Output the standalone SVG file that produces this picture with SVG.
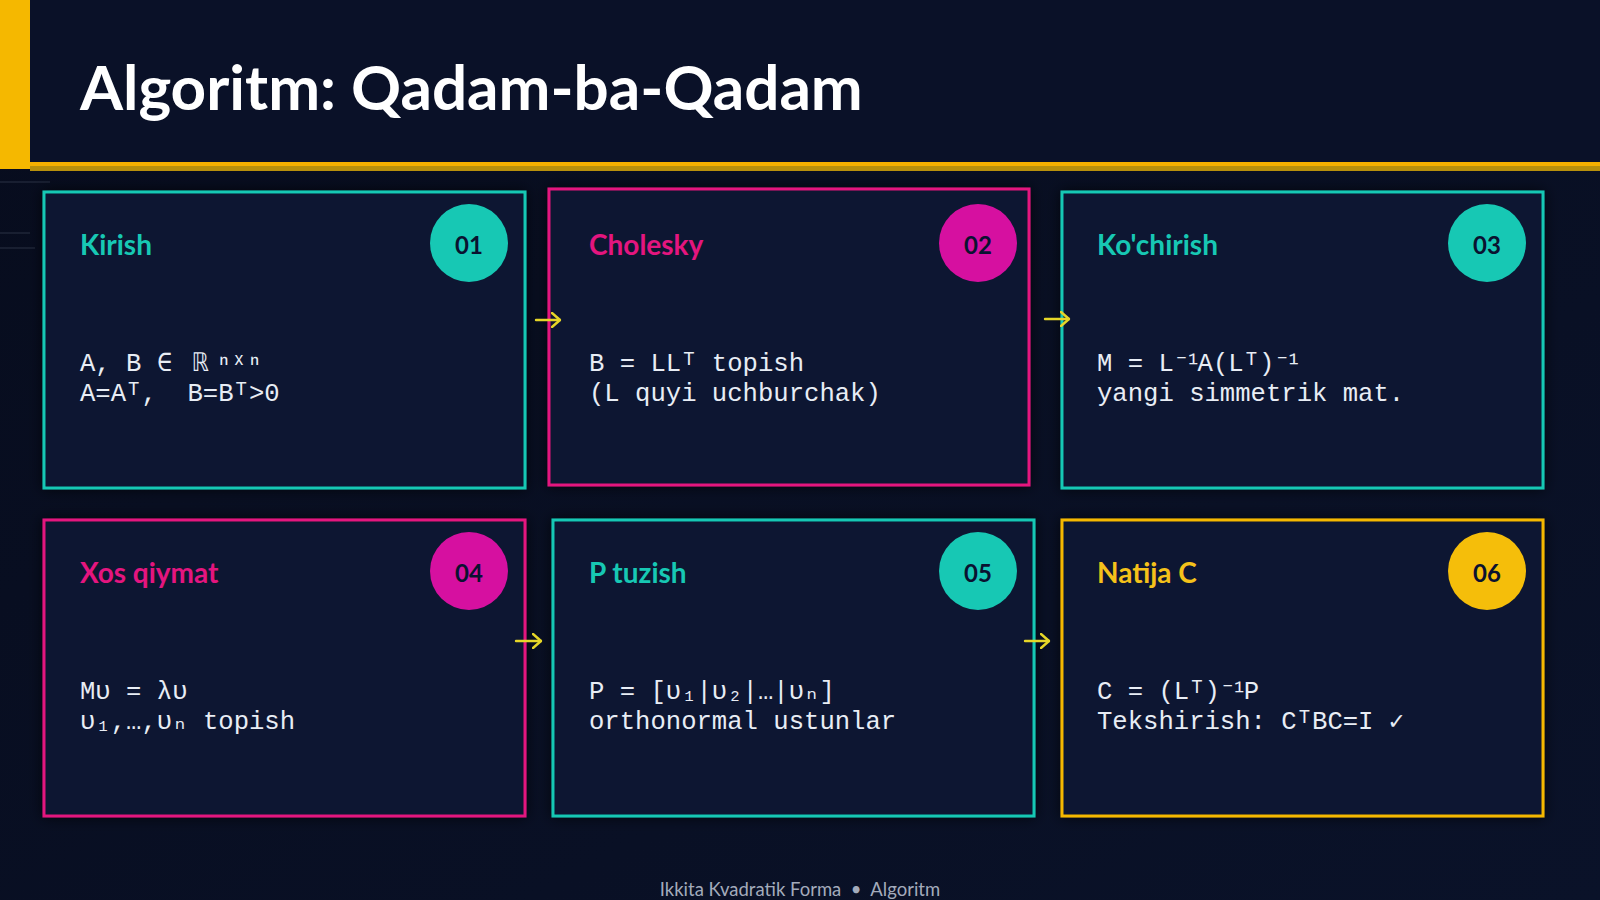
<svg xmlns="http://www.w3.org/2000/svg" width="1600" height="900" viewBox="0 0 1600 900">
  <defs>
    <linearGradient id="bg" x1="0" y1="0" x2="1" y2="1">
      <stop offset="0" stop-color="#070c1d"/>
      <stop offset="1" stop-color="#0a1229"/>
    </linearGradient>
    <filter id="shadow" x="-10%" y="-10%" width="120%" height="120%">
      <feDropShadow dx="0" dy="0" stdDeviation="7" flood-color="#000000" flood-opacity="0.7"/>
    </filter>
    <marker id="arrowhead" viewBox="0 0 10 16" refX="9" refY="8" markerWidth="10" markerHeight="16" markerUnits="userSpaceOnUse" orient="auto">
      <path d="M1,1 L9,8 L1,15" fill="none" stroke="#e6d628" stroke-width="2.4" stroke-linecap="round" stroke-linejoin="round"/>
    </marker>
    <style>
      .card { fill: #0a1230; stroke-width: 3; filter: url(#shadow); }
      .teal { stroke: #17c8b4; }
      .mag { stroke: #e4157f; }
      .yel { stroke: #f5b800; }
      .title { font-family: Lato, "Liberation Sans", sans-serif; font-weight: 700; font-size: 28px; }
      .t-teal { fill: #17c8b4; }
      .t-mag { fill: #e4157f; }
      .t-yel { fill: #f5c21a; }
      .badge-teal { fill: #17c8b4; }
      .badge-mag { fill: #d610a0; }
      .badge-yel { fill: #f5be0a; }
      .num { font-family: Lato, "Liberation Sans", sans-serif; font-weight: 700; font-size: 24px; fill: #0a1230; text-anchor: middle; }
      .body { font-family: "Liberation Mono", "DejaVu Sans Mono", monospace; font-size: 25.6px; fill: #e8edf5; }
      .sup { letter-spacing: -3.5px; }
      .conn { stroke: #e6d628; stroke-width: 2.4; fill: none; stroke-linecap: round; marker-end: url(#arrowhead); }
    </style>
  </defs>

  <!-- background -->
  <rect x="0" y="0" width="1600" height="900" fill="url(#bg)"/>
  <rect x="0" y="0" width="1600" height="163" fill="#0a1128"/>
  <rect x="0" y="0" width="30" height="169" fill="#f5b800"/>
  <rect x="30" y="162" width="1570" height="4" fill="#f5b000"/>
  <rect x="30" y="166" width="1570" height="5" fill="#b8900c"/>
  <g stroke="#8a93a8" stroke-width="1.5" opacity="0.18">
    <line x1="0" y1="182" x2="50" y2="182"/>
    <line x1="0" y1="233" x2="30" y2="233"/>
    <line x1="0" y1="248" x2="35" y2="248"/>
  </g>

  <text x="80" y="110" font-family="Lato, 'Liberation Sans', sans-serif" font-weight="700" font-size="62" fill="#ffffff">Algoritm: Qadam-ba-Qadam</text>

  <!-- nodes -->
  <g id="step01">
    <rect class="card teal" x="44" y="192" width="481" height="296"/>
    <circle class="badge-teal" cx="469" cy="243" r="39"/>
    <text class="num" x="469" y="254">01</text>
    <text class="title t-teal" x="80" y="255">Kirish</text>
    <text class="body" x="80" y="371">A, B ∈ <tspan dx="6">ℝ</tspan><tspan dx="7">ⁿˣⁿ</tspan></text>
    <text class="body" x="80" y="401" xml:space="preserve">A=Aᵀ,  B=Bᵀ&gt;0</text>
  </g>

  <g id="step02">
    <rect class="card mag" x="549" y="189" width="480" height="296"/>
    <circle class="badge-mag" cx="978" cy="243" r="39"/>
    <text class="num" x="978" y="254">02</text>
    <text class="title t-mag" x="589" y="255">Cholesky</text>
    <text class="body" x="589" y="371">B = LLᵀ topish</text>
    <text class="body" x="589" y="401">(L quyi uchburchak)</text>
  </g>

  <g id="step03">
    <rect class="card teal" x="1062" y="192" width="481" height="296"/>
    <circle class="badge-teal" cx="1487" cy="243" r="39"/>
    <text class="num" x="1487" y="254">03</text>
    <text class="title t-teal" x="1097" y="255">Ko'chirish</text>
    <text class="body" x="1097" y="371">M = L<tspan class="sup">⁻¹</tspan>A(Lᵀ)<tspan class="sup">⁻¹</tspan></text>
    <text class="body" x="1097" y="401">yangi simmetrik mat.</text>
  </g>

  <g id="step04">
    <rect class="card mag" x="44" y="520" width="481" height="296"/>
    <circle class="badge-mag" cx="469" cy="571" r="39"/>
    <text class="num" x="469" y="582">04</text>
    <text class="title t-mag" x="80" y="583">Xos qiymat</text>
    <text class="body" x="80" y="699">Mυ = λυ</text>
    <text class="body" x="80" y="729">υ₁,…,υₙ topish</text>
  </g>

  <g id="step05">
    <rect class="card teal" x="553" y="520" width="481" height="296"/>
    <circle class="badge-teal" cx="978" cy="571" r="39"/>
    <text class="num" x="978" y="582">05</text>
    <text class="title t-teal" x="589" y="583">P tuzish</text>
    <text class="body" x="589" y="699">P = [υ₁|υ₂|…|υₙ]</text>
    <text class="body" x="589" y="729">orthonormal ustunlar</text>
  </g>

  <g id="step06">
    <rect class="card yel" x="1062" y="520" width="481" height="296"/>
    <circle class="badge-yel" cx="1487" cy="571" r="39"/>
    <text class="num" x="1487" y="582">06</text>
    <text class="title t-yel" x="1097" y="583">Natija C</text>
    <text class="body" x="1097" y="699">C = (Lᵀ)<tspan class="sup">⁻¹</tspan>P</text>
    <text class="body" x="1097" y="729">Tekshirish: CᵀBC=I ✓</text>
  </g>

  <!-- connectors -->
  <g id="connectors">
    <path class="conn" d="M536,320 L560,320"/>
    <path class="conn" d="M1045,319 L1069,319"/>
    <path class="conn" d="M516,641 L541,641"/>
    <path class="conn" d="M1025,641 L1049,641"/>
  </g>

  <text x="800" y="896" text-anchor="middle" font-family="Lato, 'Liberation Sans', sans-serif" font-size="18.5" fill="#a3abbb" xml:space="preserve">Ikkita Kvadratik Forma  •  Algoritm</text>
</svg>
